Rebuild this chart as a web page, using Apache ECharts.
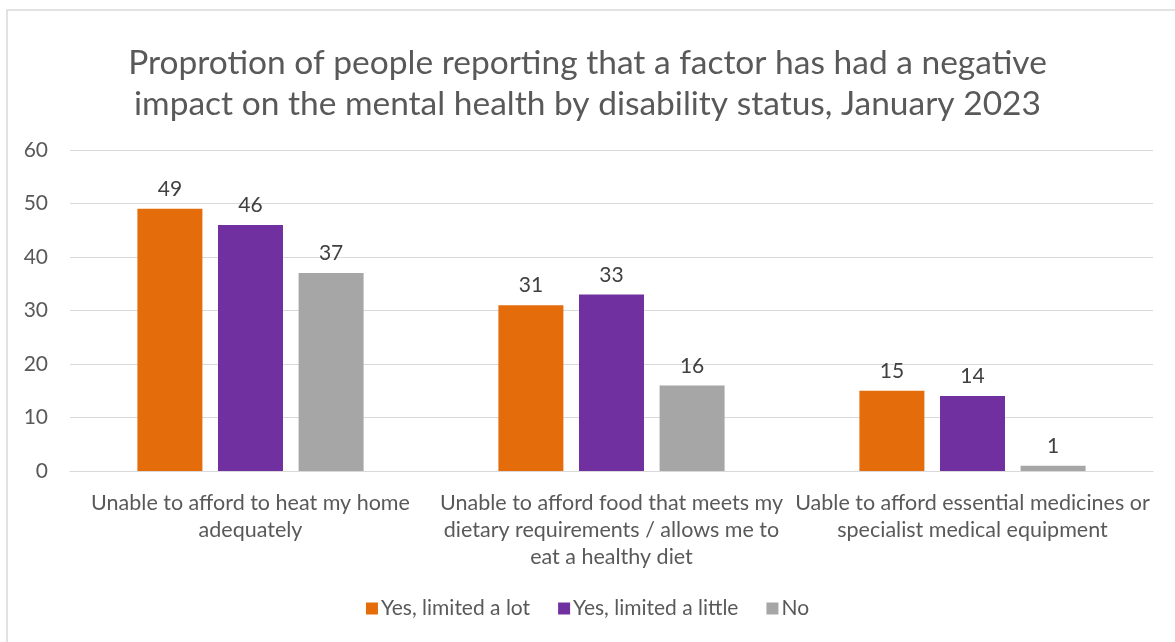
<!DOCTYPE html>
<html>
<head>
<meta charset="utf-8">
<script src="https://cdn.jsdelivr.net/npm/echarts@6/dist/echarts.min.js"></script>
<style>
  html, body { margin: 0; padding: 0; background: #ffffff; }
  #chart { width: 1175px; height: 642px; }
</style>
</head>
<body>
<div id="chart"></div>
<script>
// Categories (line breaks as shown under each group)
const categories = [
  'Unable to afford to heat my home\nadequately',
  'Unable to afford food that meets my\ndietary requirements / allows me to\neat a healthy diet',
  'Uable to afford essential medicines or\nspecialist medical equipment'
];

const seriesNames = ['Yes, limited a lot', 'Yes, limited a little', 'No'];

const limitedALot = [49, 31, 15];
const limitedALittle = [46, 33, 14];
const notLimited = [37, 16, 1];

const yTicks = { min: 0, max: 60, interval: 10 };

const colors = ['#E46C0A', '#7030A0', '#A6A6A6'];
const FONT = 'Lato, "Open Sans", sans-serif';
const TEXT = '#595959';

const chart = echarts.init(document.getElementById('chart'), null, { renderer: 'canvas' });

function barSeries(name, data, color) {
  return {
    name: name,
    type: 'bar',
    data: data,
    barWidth: 65,
    barGap: '24%',
    itemStyle: { color: color },
    label: {
      show: true,
      position: 'top',
      distance: 9,
      color: '#404040',
      fontFamily: FONT,
      fontSize: 21
    }
  };
}

chart.setOption({
  animation: false,
  backgroundColor: '#ffffff',
  color: colors,
  graphic: [{
    type: 'rect',
    shape: { x: 7, y: 10, width: 1200, height: 700 },
    style: { fill: 'none', stroke: '#d9d9d9', lineWidth: 1.5 },
    z: -1
  }],
  title: {
    text: 'Proprotion of people reporting that a factor has had a negative\nimpact on the mental health by disability status, January 2023',
    left: 'center',
    top: 38,
    textStyle: {
      fontFamily: FONT,
      fontWeight: 'normal',
      fontSize: 33.5,
      color: TEXT,
      lineHeight: 41
    }
  },
  legend: {
    data: seriesNames,
    bottom: 18,
    left: 'center',
    itemWidth: 12,
    itemHeight: 12,
    itemGap: 28,
    icon: 'rect',
    textStyle: { fontFamily: FONT, fontSize: 21, color: TEXT, padding: [0, 0, 0, -2] }
  },
  grid: { left: 70, right: 22, top: 150, bottom: 171 },
  xAxis: {
    type: 'category',
    data: categories,
    axisLine: { lineStyle: { color: '#d9d9d9' } },
    axisTick: { show: false },
    axisLabel: {
      interval: 0,
      fontFamily: FONT,
      fontSize: 21.5,
      color: TEXT,
      lineHeight: 27,
      margin: 19
    }
  },
  yAxis: {
    type: 'value',
    min: yTicks.min,
    max: yTicks.max,
    interval: yTicks.interval,
    axisLine: { show: false },
    axisTick: { show: false },
    splitLine: { lineStyle: { color: '#d9d9d9' } },
    axisLabel: { fontFamily: FONT, fontSize: 21, color: TEXT, margin: 22 }
  },
  series: [
    barSeries(seriesNames[0], limitedALot, colors[0]),
    barSeries(seriesNames[1], limitedALittle, colors[1]),
    barSeries(seriesNames[2], notLimited, colors[2])
  ]
});
</script>
</body>
</html>
